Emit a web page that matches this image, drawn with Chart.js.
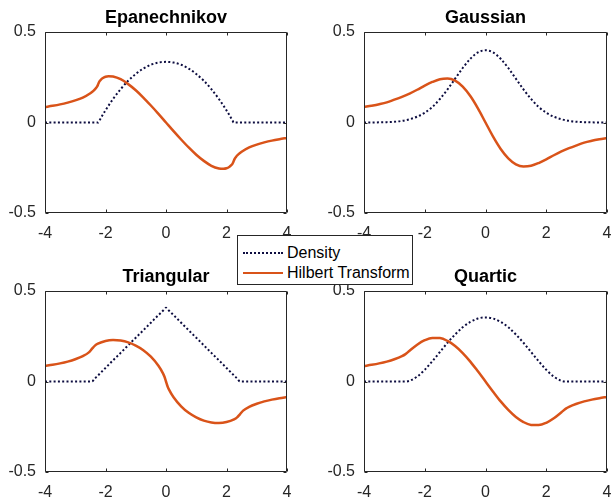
<!DOCTYPE html>
<html>
<head>
<meta charset="utf-8">
<script src="https://cdn.jsdelivr.net/npm/chart.js@4.4.1/dist/chart.umd.min.js"></script>
<style>
html,body{margin:0;padding:0;background:#fff;}
#wrap{position:relative;width:614px;height:500px;overflow:hidden;background:#fff;}
canvas{position:absolute;display:block;}
#legend{position:absolute;left:237px;top:235px;width:176px;height:50px;box-sizing:border-box;border:1px solid #262626;background:#fff;font-family:"Liberation Sans",Arial,Helvetica,sans-serif;font-size:16px;color:#000;z-index:5;}
#legend .sw{position:absolute;left:5px;width:40px;}
#legend .tx{position:absolute;left:49px;height:20px;line-height:20px;white-space:nowrap;}
</style>
</head>
<body>
<div id="wrap">
  <canvas id="c0" width="310" height="250" style="left:0;top:0"></canvas>
  <canvas id="c1" width="304" height="250" style="left:310px;top:0"></canvas>
  <canvas id="c2" width="310" height="250" style="left:0;top:250px"></canvas>
  <canvas id="c3" width="304" height="250" style="left:310px;top:250px"></canvas>
  <div id="legend"></div>
</div>
<script>
// ---- data ----
const titles = ['Epanechnikov', 'Gaussian', 'Triangular', 'Quartic'];
const seriesNames = ['Density', 'Hilbert Transform'];
const xTickValues = [-4, -2, 0, 2, 4];
const xTickLabels = ['-4', '-2', '0', '2', '4'];
const yTickValues = [-0.5, 0, 0.5];
const yTickLabels = ['-0.5', '0', '0.5'];

const xEpan = [-4,-3.75,-3.5,-3.25,-3,-2.75,-2.5,-2.4,-2.3,-2.27,-2.236,-2.2,-2.15,-2.1,-2,-1.9,-1.75,-1.5,-1.25,-1,-0.75,-0.5,-0.25,0,0.25,0.5,0.75,1,1.25,1.5,1.75,1.9,2,2.1,2.15,2.2,2.236,2.27,2.3,2.4,2.5,2.75,3,3.25,3.5,3.75,4];
const densEpan = [0,0,0,0,0,0,0,0,0,0,0,0.011,0.025,0.040,0.067,0.093,0.130,0.184,0.231,0.268,0.298,0.319,0.331,0.335,0.331,0.319,0.298,0.268,0.231,0.184,0.130,0.093,0.067,0.040,0.025,0.011,0,0,0,0,0,0,0,0,0,0,0];
const hilbEpan = [0.085,0.092,0.100,0.110,0.122,0.138,0.162,0.175,0.193,0.201,0.214,0.227,0.237,0.244,0.253,0.256,0.254,0.239,0.212,0.178,0.138,0.094,0.048,0,-0.048,-0.094,-0.138,-0.178,-0.212,-0.239,-0.254,-0.256,-0.253,-0.244,-0.237,-0.227,-0.214,-0.201,-0.193,-0.175,-0.162,-0.138,-0.122,-0.110,-0.100,-0.092,-0.085];

const xGauss = [-4,-3.75,-3.5,-3.25,-3,-2.75,-2.5,-2.25,-2,-1.75,-1.5,-1.25,-1,-0.75,-0.5,-0.25,0,0.25,0.5,0.75,1,1.25,1.5,1.75,2,2.25,2.5,2.75,3,3.25,3.5,3.75,4];
const densGauss = [0.000,0.000,0.001,0.002,0.004,0.009,0.018,0.032,0.054,0.086,0.130,0.183,0.242,0.301,0.352,0.387,0.399,0.387,0.352,0.301,0.242,0.183,0.130,0.086,0.054,0.032,0.018,0.009,0.004,0.002,0.001,0.000,0.000];
const hilbGauss = [0.086,0.093,0.101,0.111,0.126,0.142,0.160,0.181,0.204,0.224,0.239,0.243,0.231,0.198,0.146,0.078,0,-0.078,-0.146,-0.198,-0.231,-0.243,-0.239,-0.224,-0.204,-0.181,-0.160,-0.142,-0.126,-0.111,-0.101,-0.093,-0.086];

const xTri = [-4,-3.75,-3.5,-3.25,-3,-2.75,-2.55,-2.449,-2.35,-2.25,-2,-1.75,-1.5,-1.25,-1,-0.75,-0.5,-0.25,-0.1,-0.05,0,0.05,0.1,0.25,0.5,0.75,1,1.25,1.5,1.75,2,2.25,2.35,2.449,2.55,2.75,3,3.25,3.5,3.75,4];
const densTri = [0,0,0,0,0,0,0,0,0.017,0.033,0.075,0.117,0.158,0.200,0.242,0.283,0.325,0.367,0.391,0.400,0.408,0.400,0.391,0.367,0.325,0.283,0.242,0.200,0.158,0.117,0.075,0.033,0.017,0,0,0,0,0,0,0,0];
const hilbTri = [0.086,0.092,0.100,0.110,0.123,0.140,0.161,0.180,0.198,0.209,0.224,0.229,0.226,0.216,0.198,0.173,0.137,0.087,0.045,0.026,0,-0.026,-0.045,-0.087,-0.137,-0.173,-0.198,-0.216,-0.226,-0.229,-0.224,-0.209,-0.198,-0.180,-0.161,-0.140,-0.123,-0.110,-0.100,-0.092,-0.086];

const xQuart = [-4,-3.75,-3.5,-3.25,-3,-2.75,-2.646,-2.5,-2.25,-2,-1.75,-1.5,-1.25,-1,-0.75,-0.5,-0.25,0,0.25,0.5,0.75,1,1.25,1.5,1.75,2,2.25,2.5,2.646,2.75,3,3.25,3.5,3.75,4];
const densQuart = [0,0,0,0,0,0,0,0.004,0.027,0.065,0.112,0.163,0.214,0.260,0.300,0.329,0.348,0.354,0.348,0.329,0.300,0.260,0.214,0.163,0.112,0.065,0.027,0.004,0,0,0,0,0,0,0];
const hilbQuart = [0.085,0.092,0.100,0.110,0.123,0.140,0.150,0.170,0.203,0.228,0.241,0.240,0.224,0.196,0.157,0.110,0.056,0,-0.056,-0.110,-0.157,-0.196,-0.224,-0.240,-0.241,-0.228,-0.203,-0.170,-0.150,-0.140,-0.123,-0.110,-0.100,-0.092,-0.085];

// ---- styling / layout ----
const FONT = '"Liberation Sans", Arial, Helvetica, sans-serif';
const AXIS_COLOR = '#262626';
const DENS_COLOR = '#0d0d40';
const HILB_COLOR = '#D95319';

const panels = [
  {id:'c0', x: xEpan,  d: densEpan,  h: hilbEpan,  yW: 45, padR: 23, padT: 32, xH: 37},
  {id:'c1', x: xGauss, d: densGauss, h: hilbGauss, yW: 54, padR: 7,  padT: 32, xH: 37},
  {id:'c2', x: xTri,   d: densTri,   h: hilbTri,   yW: 45, padR: 23, padT: 41, xH: 28},
  {id:'c3', x: xQuart, d: densQuart, h: hilbQuart, yW: 54, padR: 7,  padT: 41, xH: 28}
];

function framePlugin(title) {
  return {
    id: 'frame',
    afterDraw(chart) {
      const ctx = chart.ctx, a = chart.chartArea;
      const xs = chart.scales.x, ys = chart.scales.y;
      ctx.save();
      ctx.strokeStyle = AXIS_COLOR;
      ctx.lineWidth = 1;
      const L = Math.round(a.left) + 0.5, R = Math.round(a.right) - 0.5;
      const T = Math.round(a.top) + 0.5, B = Math.round(a.bottom) - 0.5;
      ctx.beginPath();
      ctx.rect(L, T, R - L, B - T);
      const tl = 3;
      xTickValues.forEach(v => {
        const px = Math.round(xs.getPixelForValue(v)) + 0.5;
        ctx.moveTo(px, B); ctx.lineTo(px, B - tl);
        ctx.moveTo(px, T); ctx.lineTo(px, T + tl);
      });
      yTickValues.forEach(v => {
        const py = Math.round(ys.getPixelForValue(v)) + 0.5;
        ctx.moveTo(L, py); ctx.lineTo(L + tl, py);
        ctx.moveTo(R, py); ctx.lineTo(R - tl, py);
      });
      ctx.stroke();
      ctx.fillStyle = '#000';
      ctx.font = 'bold 18px ' + FONT;
      ctx.textAlign = 'center';
      ctx.textBaseline = 'alphabetic';
      ctx.fillText(title, (a.left + a.right) / 2, a.top - 9);
      ctx.restore();
    }
  };
}

panels.forEach((p, i) => {
  const pts = arr => p.x.map((x, k) => ({x: x, y: arr[k]}));
  new Chart(document.getElementById(p.id), {
    type: 'line',
    data: {
      datasets: [
        {label: seriesNames[1], data: pts(p.h), borderColor: HILB_COLOR, borderWidth: 2.5,
         pointRadius: 0, cubicInterpolationMode: 'monotone', fill: false},
        {label: seriesNames[0], data: pts(p.d), borderColor: DENS_COLOR, borderWidth: 2,
         borderDash: [2, 2.3], borderCapStyle: 'butt', pointRadius: 0, cubicInterpolationMode: 'monotone', fill: false}
      ]
    },
    options: {
      responsive: false,
      animation: false,
      devicePixelRatio: 1,
      layout: {padding: {left: 0, right: p.padR, top: p.padT, bottom: 0}},
      plugins: {legend: {display: false}, tooltip: {enabled: false}, title: {display: false}},
      scales: {
        x: {
          type: 'linear', min: -4, max: 4,
          afterBuildTicks: s => { s.ticks = xTickValues.map(v => ({value: v})); },
          afterFit: s => { s.height = p.xH; s.paddingLeft = 0; s.paddingRight = 0; },
          ticks: {autoSkip: false, maxRotation: 0, padding: 11, color: AXIS_COLOR,
                  font: {family: FONT, size: 16}, callback: (v, k) => xTickLabels[k]},
          grid: {display: false, drawTicks: false},
          border: {display: false}
        },
        y: {
          type: 'linear', min: -0.5, max: 0.5,
          afterBuildTicks: s => { s.ticks = yTickValues.map(v => ({value: v})); },
          afterFit: s => { s.width = p.yW; s.paddingTop = 0; s.paddingBottom = 0; },
          ticks: {autoSkip: false, padding: 9, color: AXIS_COLOR,
                  font: {family: FONT, size: 16}, callback: (v, k) => yTickLabels[k]},
          grid: {display: false, drawTicks: false},
          border: {display: false}
        }
      }
    },
    plugins: [framePlugin(titles[i])]
  });
});

// legend (HTML)
const legend = document.getElementById('legend');
const rows = [
  {name: seriesNames[0], style: 'border-top:2px dotted ' + DENS_COLOR + ';height:0;'},
  {name: seriesNames[1], style: 'background:' + HILB_COLOR + ';height:2px;'}
];
rows.forEach((r, k) => {
  const cy = 17 + k * 20;
  const sw = document.createElement('div');
  sw.className = 'sw';
  sw.style.cssText = r.style + 'top:' + (cy - 1) + 'px;';
  legend.appendChild(sw);
  const tx = document.createElement('div');
  tx.className = 'tx';
  tx.style.top = (cy - 10) + 'px';
  tx.textContent = r.name;
  legend.appendChild(tx);
});
</script>
</body>
</html>
